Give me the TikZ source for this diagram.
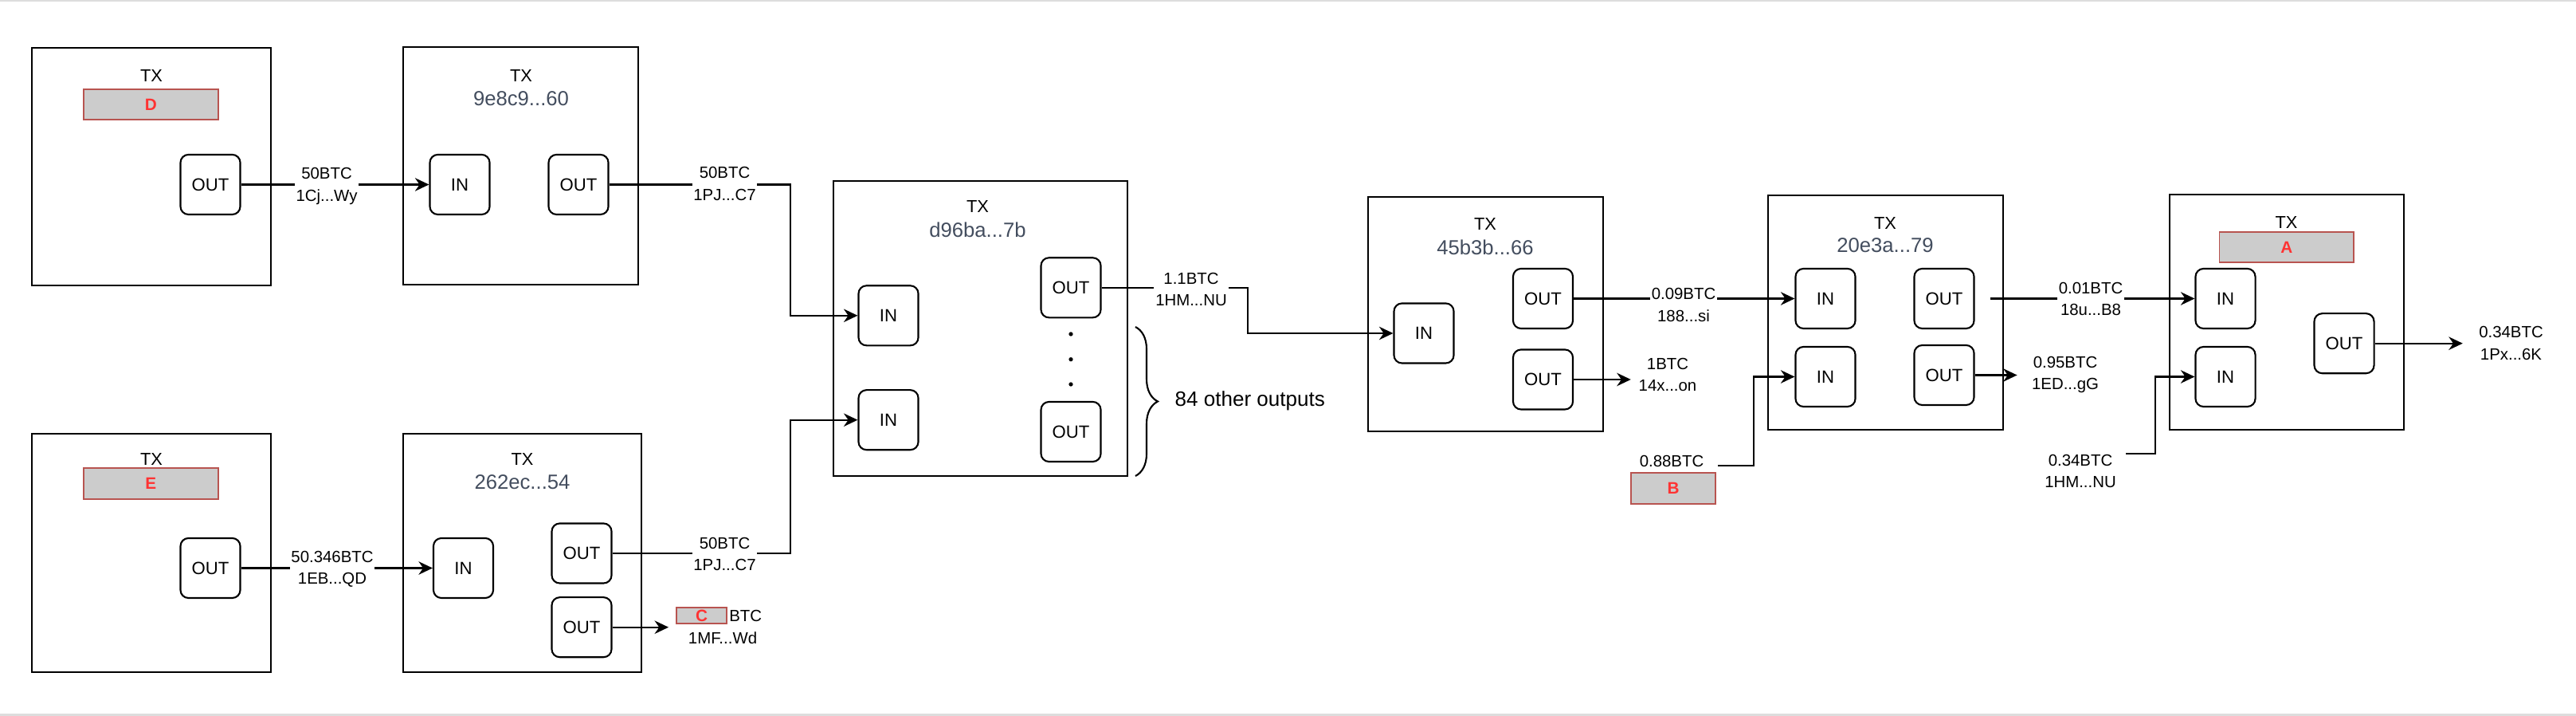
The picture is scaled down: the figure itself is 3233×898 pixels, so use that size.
\documentclass[tikz,border=0pt]{standalone}
\usepackage{fontspec}
\setmainfont{Liberation Sans}
\usetikzlibrary{arrows.meta,positioning,decorations.pathreplacing}
\definecolor{hashc}{HTML}{434D5E}
\definecolor{tagtxt}{HTML}{FF3333}
\definecolor{tagedge}{HTML}{B85450}
\definecolor{tagfill}{HTML}{CCCCCC}
\definecolor{framec}{HTML}{DDDDDD}
\tikzset{
  ln/.style={line width=0.6pt},
  ar/.style={-{Stealth[length=1.75mm,width=1.65mm]},line width=0.6pt},
  txbox/.style={draw,line width=0.6pt,minimum width=2.95cm,minimum height=2.95cm,inner sep=0pt},
  port/.style={draw,line width=0.6pt,rounded corners=1mm,minimum width=7.5mm,minimum height=7.5mm,inner sep=0pt,font=\fontsize{6.3}{7.5}\selectfont},
  ttl/.style={inner sep=0pt,font=\fontsize{6.2}{7.5}\selectfont},
  hsh/.style={inner sep=0pt,text=hashc,font=\fontsize{7.3}{8.5}\selectfont},
  amt/.style={inner sep=0.5pt,fill=white,align=center,font=\fontsize{5.8}{7.7}\selectfont},
  redtag/.style={draw=tagedge,fill=tagfill,line width=0.5pt,inner sep=0pt,text=tagtxt,font=\bfseries\fontsize{5.9}{6.5}\selectfont}
}
\begin{document}
\begin{tikzpicture}[x=0.01cm,y=-0.01cm]
\useasboundingbox (0,0) rectangle (3233,898);
\fill[framec] (0,0) rectangle (3233,2);
\fill[framec] (0,895.5) rectangle (3233,898);
% transactions
\node[txbox,minimum width=2.99cm,minimum height=2.98cm] (txD) at (190,209) {};
\node[ttl] (tD) at (190,95) {TX};
\node[redtag,minimum width=1.686cm,minimum height=0.38cm] (rD) at (189.3,131) {D};
\node[port] (oD) at (264,231.5) {OUT};

\node[txbox,minimum width=2.945cm,minimum height=2.97cm] (tx1) at (653.7,208) {};
\node[ttl] (t1) at (654,95) {TX};
\node[hsh] (h1) at (654,124) {9e8c9...60};
\node[port] (i1) at (577,231.5) {IN};
\node[port] (o1) at (726,231.5) {OUT};

\node[txbox,minimum width=2.99cm,minimum height=2.99cm] (txE) at (190,693.5) {};
\node[ttl] (tE) at (190,576) {TX};
\node[redtag,minimum width=1.686cm,minimum height=0.39cm] (rE) at (189.3,606.2) {E};
\node[port] (oE) at (264,712.5) {OUT};

\node[txbox,minimum width=2.98cm,minimum height=2.99cm] (tx2) at (655.5,693.5) {};
\node[ttl] (t2) at (655.5,576) {TX};
\node[hsh] (h2) at (655.5,605) {262ec...54};
\node[port] (i2) at (581.5,712.5) {IN};
\node[port] (o2a) at (730,694) {OUT};
\node[port] (o2b) at (730,786.7) {OUT};

\node[txbox,minimum width=3.69cm,minimum height=3.7cm] (tx3) at (1230.5,412) {};
\node[ttl] (t3) at (1227,259) {TX};
\node[hsh] (h3) at (1227,288) {d96ba...7b};
\node[port] (i3a) at (1115,395.8) {IN};
\node[port] (i3b) at (1115,526.7) {IN};
\node[port] (o3a) at (1344,360.8) {OUT};
\node[port] (o3b) at (1344,541.5) {OUT};
\foreach \y in {419,450.7,482}{\fill (1344,\y) circle (0.75pt);}
\draw[ln,decorate,decoration={brace,amplitude=0.28cm}] (1425,410) -- (1425,597);
\node[inner sep=0pt,anchor=west,font=\fontsize{7.4}{8.5}\selectfont] (oth) at (1474,503) {84 other outputs};

\node[txbox,minimum width=2.95cm,minimum height=2.94cm] (tx4) at (1864.5,394) {};
\node[ttl] (t4) at (1864,281) {TX};
\node[hsh] (h4) at (1864,310) {45b3b...66};
\node[port] (i4) at (1787,418) {IN};
\node[port] (o4a) at (1936.5,374.5) {OUT};
\node[port] (o4b) at (1936.5,476) {OUT};

\node[txbox,minimum width=2.95cm,minimum height=2.94cm] (tx5) at (2366.5,392) {};
\node[ttl] (t5) at (2366,280) {TX};
\node[hsh] (h5) at (2366,308) {20e3a...79};
\node[port] (i5a) at (2291,374.5) {IN};
\node[port] (i5b) at (2291,472.5) {IN};
\node[port] (o5a) at (2440,374.5) {OUT};
\node[port] (o5b) at (2440,470.5) {OUT};

\node[txbox,minimum width=2.945cm,minimum height=2.95cm] (txA) at (2870,391.5) {};
\node[ttl] (tA) at (2869.5,279) {TX};
\node[redtag,minimum width=1.684cm,minimum height=0.383cm] (rA) at (2869.8,310) {A};
\node[port] (iAa) at (2793,374.5) {IN};
\node[port] (iAb) at (2793,472.5) {IN};
\node[port] (oA) at (2942,430.7) {OUT};

% loose amounts
\node[redtag,minimum width=0.63cm,minimum height=0.2cm] (rC) at (880.5,772) {C};
\node[amt,right=0pt of rC] (btc) {BTC};
\node[amt] (l5) at (907,800) {1MF...Wd};
\node[amt] (l8) at (2093,470) {1BTC\\14x...on};
\node[amt] (l9) at (2098,578) {0.88BTC};
\node[redtag,minimum width=1.06cm,minimum height=0.39cm] (rB) at (2100,612.5) {B};
\node[amt] (l11) at (2592,470) {0.95BTC\\1ED...gG};
\node[amt] (l12) at (2611,591) {0.34BTC\\1HM...NU};
\node[amt] (l13) at (3151.5,430.5) {0.34BTC\\1Px...6K};
\coordinate (b0) at (2156,584);
\coordinate (a0) at (2668,569);

% flows
\draw[ar] (oD.east) -- (i1.west);
\draw[ar] (o1.east) -- ++(227,0) |- (i3a.west);
\draw[ar] (oE.east) -- (i2.west);
\draw[ar] (o2a.east) -- ++(223,0) |- (i3b.west);
\draw[ar,shorten >=0.09cm] (o2b.east) -- (o2b.east -| rC.west);
\draw[ar] (o3a.east) -- ++(183.5,0) |- (i4.west);
\draw[ar] (o4a.east) -- (i5a.west);
\draw[ar,shorten >=0.075cm] (o4b.east) -- (o4b.east -| l8.west);
\draw[ar] (b0) -- ++(45,0) |- (i5b.west);
\draw[ar,shorten <=0.19cm] (o5a.east) -- (iAa.west);
\draw[ar,shorten >=0.16cm] (o5b.east) -- (o5b.east -| l11.west);
\draw[ar] (a0) -- ++(37,0) |- (iAb.west);
\draw[ar,shorten >=0.18cm] (oA.east) -- (oA.east -| l13.west);

% amounts on the lines
\node[amt] (l1) at (410,233.5) {50BTC\\1Cj...Wy};
\node[amt] (l2) at (909.5,230.5) {50BTC\\1PJ...C7};
\node[amt] (l3) at (417,713.7) {50.346BTC\\1EB...QD};
\node[amt] (l4) at (909.5,695) {50BTC\\1PJ...C7};
\node[amt] (l6) at (1495,363) {1.1BTC\\1HM...NU};
\node[amt] (l7) at (2113,382.5) {0.09BTC\\188...si};
\node[amt] (l10) at (2624,375.3) {0.01BTC\\18u...B8};
\end{tikzpicture}
\end{document}
